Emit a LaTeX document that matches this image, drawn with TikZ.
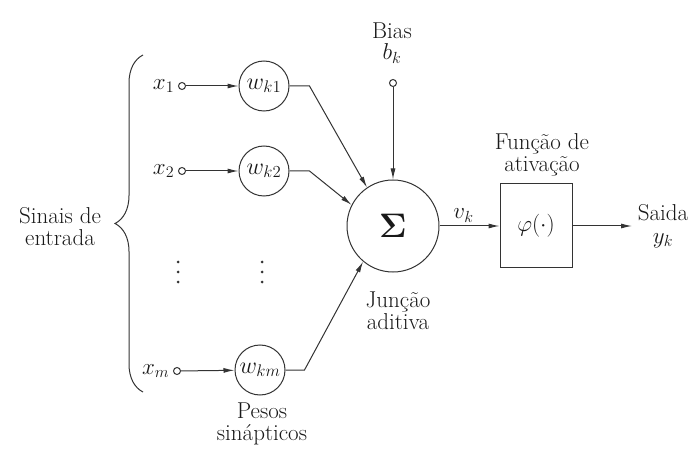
\documentclass[tikz,border=0pt]{standalone}
\usepackage{fix-cm}
\usepackage{amsmath, amssymb}
\usetikzlibrary{calc, positioning, arrows.meta, decorations.pathreplacing}

\begin{document}
\begin{tikzpicture}[
    x=1pt, y=-1pt,
    line width=1pt, color=black!80,
    every node/.style = {font=\fontsize{23}{26}\selectfont, text=black!90},
    port/.style  = {circle, draw, fill=white, inner sep=0pt, minimum size=7pt},
    peso/.style  = {circle, draw, minimum size=50pt, inner sep=0pt,
                    font=\fontsize{24}{24}\selectfont},
    soma/.style  = {circle, draw, minimum size=92pt, inner sep=0pt},
    caixa/.style = {draw, minimum width=72pt, minimum height=84pt, inner sep=0pt},
    seta/.style  = {-{Latex[length=11pt, width=5pt]}},
    txt/.style   = {align=center},
  ]

  % ---------- quadro (margens da figura) ----------
  \useasboundingbox (0,0) rectangle (699,457);

  % ---------- entradas x_1, x_2, x_m ----------
  \node[port] (in1) at (182,86)  {};
  \node[port] (in2) at (182,171) {};
  \node[port] (inm) at (177,371) {};
  \node[left=0pt of in1] (lx1) {$x_1$};
  \node[left=0pt of in2] (lx2) {$x_2$};
  \node[left=0pt of inm] (lxm) {$x_m$};

  % ---------- pesos sinapticos ----------
  \node[peso] (w1) at (264,86)  {$w_{k1}$};
  \node[peso] (w2) at (264,171) {$w_{k2}$};
  \node[peso] (wm) at (260,370) {$w_{km}$};

  % pontos (reticencias verticais)
  \foreach \px in {178,262}
    \foreach \py in {262,272,282}
      \fill (\px,\py) circle (1.5pt);

  % ---------- juncao aditiva e bias ----------
  \node[soma] (sum) at (393,226) {\fontsize{34}{34}\selectfont$\boldsymbol{\Sigma}$};
  \node[port] (bias) at (393,83) {};
  \node[txt] (lbias) at (392,43) {Bias\\[-5pt]$b_k$};

  % ---------- funcao de ativacao ----------
  \node[caixa] (act) at (536,226) {$\varphi(\cdot)$};
  \coordinate (out) at (632,226);

  % ---------- ligacoes ----------
  \draw[seta] (in1) -- (w1);
  \draw[seta] (in2) -- (w2);
  \draw[seta] (inm) -- (wm);

  \draw[seta] (w1.east) -- ++(20,0) -- (sum.124);
  \draw[seta] (w2.east) -- ++(20,0) -- (sum.153);
  \draw[seta] (wm.east) -- ++(19,0) -- (sum.230);

  \draw[seta] (bias) -- (sum.north);
  \draw[seta] (sum) -- node[above, pos=0.4] {$v_k$} (act);
  \draw[seta] (act) -- (out);

  % ---------- chave das entradas ----------
  \draw[decorate, decoration={brace, amplitude=28pt}] (143,392) -- (143,55);

  % ---------- textos ----------
  \node[txt] (lsinais) at (60,227)  {Sinais de\\[-4pt]entrada};
  \node[txt] (lpesos)  at (262,424) {Pesos\\[-4pt]sinápticos};
  \node[txt] (ljunc)   at (398,311) {Junção\\[-4pt]aditiva};
  \node[txt] (lfunc)   at (542,155) {Função de\\[-4pt]ativação};
  \node[txt, right=2pt of out] (lsaida) {Saida\\[-3pt]$y_k$};

\end{tikzpicture}
\end{document}
